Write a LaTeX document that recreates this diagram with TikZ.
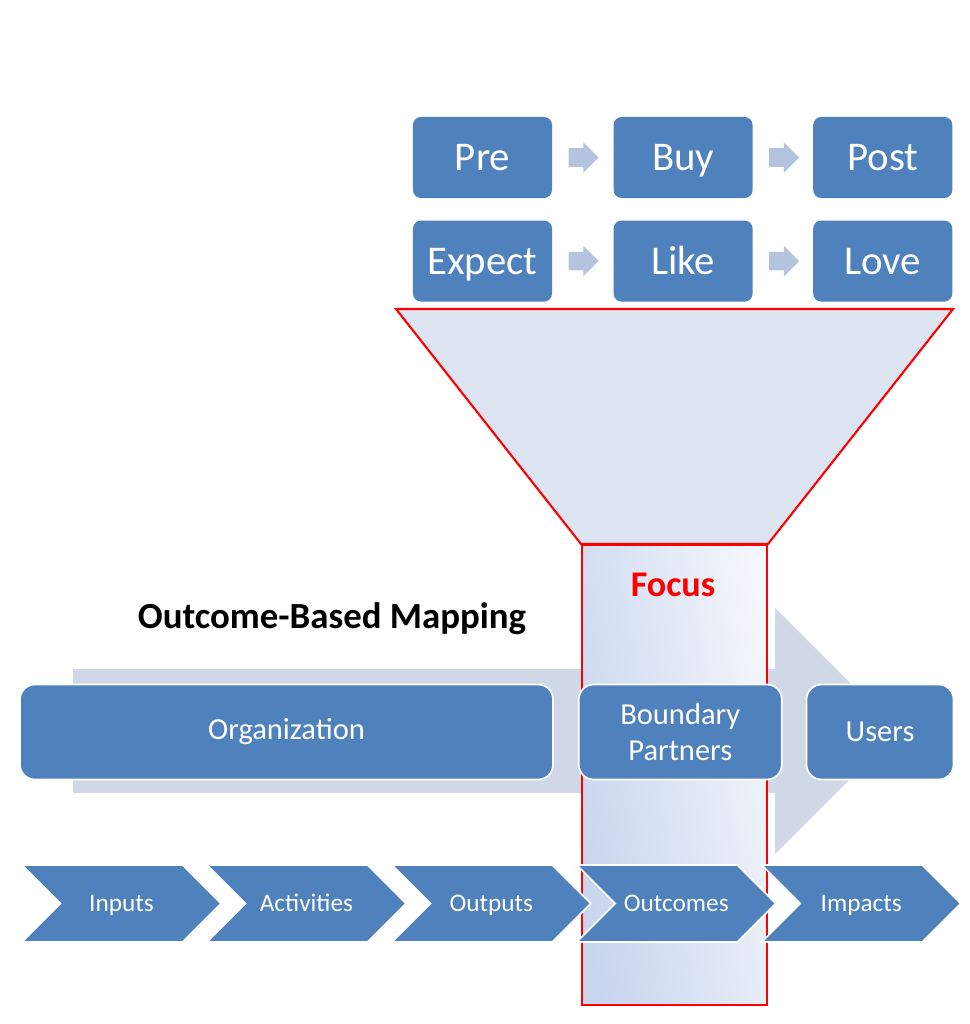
\documentclass[tikz,border=0pt]{standalone}
\usepackage{fontspec}
\setmainfont{Carlito}
\usetikzlibrary{positioning, shapes.arrows, shapes.symbols}

\definecolor{boxblue}{HTML}{4F81BD}
\definecolor{hintgray}{HTML}{B4C3DE}
\definecolor{bandgray}{HTML}{D0D8E8}
\definecolor{funnelfill}{HTML}{DCE4F1}
\definecolor{focusdeep}{HTML}{C7D5EE}
\definecolor{focuslight}{HTML}{F4F6FB}
\definecolor{focusred}{HTML}{FF0000}

\begin{document}
\begin{tikzpicture}[
  x=0.025cm, y=-0.025cm,
  stage/.style={rectangle, fill=boxblue, text=white, rounded corners=0.2cm, minimum width=3.475cm, minimum height=2.025cm, inner sep=0pt, text height=24.4pt, text depth=5.8pt, font=\fontsize{29}{29}\selectfont},
  hint/.style={single arrow, fill=hintgray, minimum height=0.75cm, inner xsep=0pt, inner ysep=0.225cm, single arrow head extend=0.15cm},
  actor/.style={rectangle, fill=boxblue, draw=white, line width=1.2pt, text=white, rounded corners=0.375cm, minimum height=2.375cm, align=center, inner sep=0pt, font=\fontsize{21.7}{25}\selectfont},
  chain/.style={signal, signal to=east, signal from=west, fill=boxblue, draw=white, line width=1.2pt, text=white, minimum width=4.975cm, minimum height=1.925cm, inner sep=0pt, text height=15.1pt, text depth=3.6pt, font=\fontsize{18}{18}\selectfont},
  focusbox/.style={rectangle, draw=focusred, line width=1.5pt, left color=focusdeep, right color=focuslight, shading angle=100, minimum width=4.625cm, minimum height=11.5cm, inner sep=0pt},
  funnel/.style={draw=focusred, line width=1.5pt, fill=funnelfill, line join=miter},
  band/.style={fill=bandgray}
]
\useasboundingbox (0,0) rectangle (970,1024);

% ======================
% BACKGROUND ARROW
% ======================
\fill[band] (73,669) -- (775,669) -- (775,608) -- (898,731) -- (775,854) -- (775,793) -- (73,793) -- cycle;

% ======================
% FOCUS & FUNNEL
% ======================
\node[focusbox] (focus) at (674.5,775) {};
\draw[funnel] (focus.north west) -- (396,309) -- (953,309) -- (focus.north east) -- cycle;

\node[text=focusred, font=\bfseries\fontsize{25.7}{26}\selectfont] (focustext) at (673,585) {Focus};
\node[font=\bfseries\fontsize{26.2}{27}\selectfont] (title) at (332,619) {Outcome-Based Mapping};

% ======================
% CUSTOMER JOURNEY
% ======================
\node[stage] (pre) at (482.5,157.5) {Pre};
\node[stage, right=1.525cm of pre] (buy) {Buy};
\node[stage, right=1.5cm of buy] (post) {Post};

\node[stage, below=0.55cm of pre] (expect) {Expect};
\node[stage, below=0.55cm of buy] (like) {Like};
\node[stage, below=0.55cm of post] (love) {Love};

\node[hint, right=0.4cm of pre] (prebuy) {};
\node[hint, right=0.4cm of buy] (buypost) {};
\node[hint, right=0.4cm of expect] (expectlike) {};
\node[hint, right=0.4cm of like] (likelove) {};

% ======================
% ACTORS
% ======================
\node[actor, minimum width=13.325cm] (organization) at (286.5,732) {Organization};
\node[actor, minimum width=5.075cm, right=0.6cm of organization] (partners) {Boundary\\Partners};
\node[actor, minimum width=3.675cm, right=0.575cm of partners] (users) {Users};

% ======================
% RESULTS CHAIN
% ======================
\node[chain] (inputs) at (121.5,903.5) {Inputs};
\node[chain, right=0.55cm of inputs] (activities) {Activities};
\node[chain, right=0.55cm of activities] (outputs) {Outputs};
\node[chain, right=0.55cm of outputs] (outcomes) {Outcomes};
\node[chain, right=0.55cm of outcomes] (impacts) {Impacts};

\end{tikzpicture}
\end{document}
